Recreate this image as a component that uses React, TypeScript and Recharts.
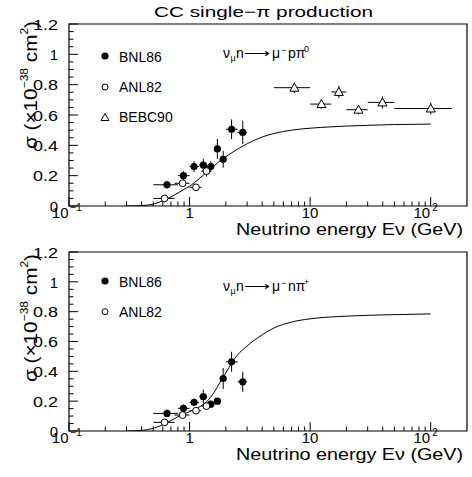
import { ComposedChart, Scatter, Line, XAxis, YAxis, ErrorBar, ReferenceArea } from 'recharts'

const FONT = '"Liberation Sans", Arial, Helvetica, sans-serif'

// log energy axis
const X_TICKS = [
  0.1, 0.2, 0.3, 0.4, 0.5, 0.6, 0.7, 0.8, 0.9,
  1, 2, 3, 4, 5, 6, 7, 8, 9,
  10, 20, 30, 40, 50, 60, 70, 80, 90, 100,
]
const X_MAJOR = [0.1, 1, 10, 100]
const X_MAJOR_BASE = ['10', '1', '10', '10']
const X_MAJOR_EXP = ['\u22121', '', '', '2']

const Y_TICKS = [
  0, 0.05, 0.1, 0.15, 0.2, 0.25, 0.3, 0.35, 0.4, 0.45, 0.5, 0.55, 0.6,
  0.65, 0.7, 0.75, 0.8, 0.85, 0.9, 0.95, 1, 1.05, 1.1, 1.15, 1.2,
]
const Y_MAJOR = [0, 0.2, 0.4, 0.6, 0.8, 1, 1.2]
const Y_LABELS = ['0', '0.2', '0.4', '0.6', '0.8', '1', '1.2']

// BNL86 bins (shared by both channels)
const BNL_E = [0.65, 0.89, 1.09, 1.3, 1.5, 1.7, 1.9, 2.23, 2.76]
const BNL_LO = [0.5, 0.8, 1.0, 1.2, 1.4, 1.6, 1.8, 2.0, 2.5]
const BNL_HI = [0.8, 1.0, 1.2, 1.4, 1.6, 1.8, 2.0, 2.5, 3.0]
// ANL82 bins
const ANL_E = [0.62, 0.875, 1.13, 1.38]
const ANL_LO = [0.5, 0.75, 1.0, 1.25]
const ANL_HI = [0.75, 1.0, 1.25, 1.5]
// BEBC90 bins
const BEBC_E = [7.4, 12.4, 17.3, 25.2, 39.8, 100]
const BEBC_LO = [5, 10, 15, 20, 30, 50]
const BEBC_HI = [10, 15, 20, 30, 50, 150]

// nu_mu n -> mu- p pi0
const P_BNL = [0.14, 0.2, 0.26, 0.27, 0.26, 0.376, 0.308, 0.506, 0.485]
const P_BNL_ERR = [0.025, 0.03, 0.035, 0.04, 0.035, 0.066, 0.055, 0.065, 0.077]
const P_ANL = [0.05, 0.15, 0.123, 0.23]
const P_ANL_ERR = [0.01, 0.012, 0.012, 0.035]
const P_BEBC = [0.78, 0.672, 0.752, 0.635, 0.683, 0.643]
const P_BEBC_ERR = [0.035, 0.03, 0.04, 0.03, 0.04, 0.04]
const P_CURVE_E = [0.3, 0.4, 0.5, 0.6, 0.7, 0.8, 0.9, 1, 1.2, 1.4, 1.6, 1.8, 2, 2.5, 3, 4, 5, 7, 10, 15, 20, 30, 50, 100]
const P_CURVE = [0, 0.003, 0.012, 0.035, 0.06, 0.085, 0.11, 0.13, 0.18, 0.225, 0.265, 0.3, 0.325, 0.375, 0.41, 0.455, 0.478, 0.5, 0.513, 0.522, 0.527, 0.532, 0.537, 0.54]

// nu_mu n -> mu- n pi+
const N_BNL = [0.118, 0.152, 0.192, 0.23, 0.18, 0.2, 0.352, 0.464, 0.33]
const N_BNL_ERR = [0.02, 0.025, 0.025, 0.048, 0.02, 0.02, 0.07, 0.067, 0.067]
const N_ANL = [0.058, 0.107, 0.136, 0.167]
const N_ANL_ERR = [0.01, 0.012, 0.012, 0.015]
const N_CURVE_E = [0.3, 0.4, 0.5, 0.6, 0.7, 0.8, 0.9, 1, 1.2, 1.4, 1.6, 1.8, 2, 2.25, 2.5, 3, 4, 5, 7, 10, 20, 50, 100]
const N_CURVE = [0, 0.004, 0.018, 0.042, 0.07, 0.095, 0.115, 0.13, 0.16, 0.2, 0.26, 0.33, 0.39, 0.46, 0.51, 0.57, 0.645, 0.69, 0.73, 0.752, 0.77, 0.78, 0.785]

type Pt = { E: number; s: number; xe: [number, number]; ye: number }

function points(E: number[], lo: number[], hi: number[], s: number[], err: number[]): Pt[] {
  return E.map((e, i) => ({ E: e, s: s[i], xe: [e - lo[i], hi[i] - e], ye: err[i] }))
}

function curve(E: number[], s: number[]) {
  return E.map((e, i) => ({ E: e, s: s[i] }))
}

const Filled = (p: any) => <circle cx={p.cx} cy={p.cy} r={3.6} fill="#000" />
const Open = (p: any) => <circle cx={p.cx} cy={p.cy} r={3.4} fill="#fff" stroke="#000" strokeWidth={1} />
const Tri = (p: any) => (
  <polygon
    points={`${p.cx},${p.cy - 4.5} ${p.cx - 4.5},${p.cy + 3.5} ${p.cx + 4.5},${p.cy + 3.5}`}
    fill="#fff"
    stroke="#000"
    strokeWidth={1}
  />
)

function XTick(props: any) {
  const { x, y, payload } = props
  const i = X_MAJOR.indexOf(payload.value)
  const major = i >= 0
  const exp = major ? X_MAJOR_EXP[i] : ''
  return (
    <g>
      <line x1={x} x2={x} y1={y} y2={y - (major ? 9 : 4.5)} stroke="#000" strokeWidth={1} />
      {major && exp === '' && (
        <text x={x} y={y + 11.5} textAnchor="middle" fontSize={15} fontFamily={FONT} fill="#000">
          {X_MAJOR_BASE[i]}
        </text>
      )}
      {major && exp !== '' && (
        <g>
          <text x={x - 0.5} y={y + 11.5} textAnchor="end" fontSize={15} fontFamily={FONT} fill="#000">
            {X_MAJOR_BASE[i]}
          </text>
          <text x={x + 1.5} y={y + 5} fontSize={10} fontFamily={FONT} fill="#000">
            {exp}
          </text>
        </g>
      )}
    </g>
  )
}

function YTick(props: any) {
  const { x, y, payload } = props
  const i = Y_MAJOR.indexOf(payload.value)
  const major = i >= 0
  const label = major ? Y_LABELS[i] : ''
  return (
    <g>
      <line x1={x} x2={x + (major ? 9 : 4.5)} y1={y} y2={y} stroke="#000" strokeWidth={1} />
      {major && (
        <text
          x={x - 11}
          y={y}
          dy="0.38em"
          textAnchor="end"
          fontSize={15}
          fontFamily={FONT}
          fill="#000"
          textLength={label.length > 1 ? 25 : undefined}
          lengthAdjust="spacingAndGlyphs"
        >
          {label}
        </text>
      )}
    </g>
  )
}

type PanelProps = {
  height: number
  axisHeight: number
  bnl: Pt[]
  anl: Pt[]
  bebc?: Pt[]
  line: { E: number; s: number }[]
}

function Panel({ height, axisHeight, bnl, anl, bebc, line }: PanelProps) {
  return (
    <ComposedChart width={472} height={height} margin={{ top: 24, right: 5, bottom: 0, left: 0 }}>
      <XAxis
        dataKey="E"
        type="number"
        scale="log"
        domain={[0.1, 200]}
        ticks={X_TICKS}
        interval={0}
        allowDataOverflow
        height={axisHeight}
        axisLine={false}
        tickLine={false}
        tickSize={0}
        tickMargin={0}
        tick={<XTick />}
      />
      <YAxis
        dataKey="s"
        type="number"
        domain={[0, 1.2]}
        ticks={Y_TICKS}
        interval={0}
        allowDataOverflow
        width={69}
        axisLine={false}
        tickLine={false}
        tickSize={0}
        tickMargin={0}
        tick={<YTick />}
      />
      <ReferenceArea x1={0.1} x2={200} y1={0} y2={1.2} fill="none" stroke="#000" strokeWidth={1.2} ifOverflow="visible" />
      <Line data={line} dataKey="s" type="monotone" stroke="#000" strokeWidth={1} dot={false} isAnimationActive={false} />
      <Scatter data={bnl} dataKey="s" shape={Filled} isAnimationActive={false}>
        <ErrorBar dataKey="ye" direction="y" width={0} stroke="#000" strokeWidth={1} />
        <ErrorBar dataKey="xe" direction="x" width={0} stroke="#000" strokeWidth={1} />
      </Scatter>
      <Scatter data={anl} dataKey="s" shape={Open} isAnimationActive={false}>
        <ErrorBar dataKey="ye" direction="y" width={0} stroke="#000" strokeWidth={1} />
        <ErrorBar dataKey="xe" direction="x" width={0} stroke="#000" strokeWidth={1} />
      </Scatter>
      {bebc && (
        <Scatter data={bebc} dataKey="s" shape={Tri} isAnimationActive={false}>
          <ErrorBar dataKey="ye" direction="y" width={0} stroke="#000" strokeWidth={1} />
          <ErrorBar dataKey="xe" direction="x" width={0} stroke="#000" strokeWidth={1} />
        </Scatter>
      )}
    </ComposedChart>
  )
}

function YLabel({ cy }: { cy: number }) {
  return (
    <text
      transform={`translate(37, ${cy}) rotate(-90)`}
      textAnchor="middle"
      fontSize={19}
      fontFamily={FONT}
      fill="#000"
      textLength={128}
      lengthAdjust="spacingAndGlyphs"
    >
      σ (×10
      <tspan fontSize={11} dy={-9}>−38</tspan>
      <tspan dy={9}> cm</tspan>
      <tspan fontSize={11} dy={-9}>2</tspan>
      <tspan dy={9}>)</tspan>
    </text>
  )
}

function Reaction({ y, final, charge }: { y: number; final: string; charge: string }) {
  return (
    <g fontFamily={FONT} fill="#000">
      <text x={223} y={y} fontSize={14}>ν</text>
      <text x={230.5} y={y + 3} fontSize={9}>μ</text>
      <text x={236} y={y} fontSize={14}>n</text>
      <text x={244} y={y} fontSize={14} textLength={26} lengthAdjust="spacingAndGlyphs">⟶</text>
      <text x={272} y={y} fontSize={14}>μ</text>
      <text x={281} y={y - 5} fontSize={9}>−</text>
      <text x={288} y={y} fontSize={14}>{final}π</text>
      <text x={304} y={y - 6} fontSize={9}>{charge}</text>
    </g>
  )
}

export default function App() {
  return (
    <div style={{ position: 'absolute', left: 0, top: 0, width: 472, height: 477, background: '#fff' }}>
      <div style={{ position: 'absolute', left: 0, top: 0 }}>
        <Panel
          height={240}
          axisHeight={34}
          bnl={points(BNL_E, BNL_LO, BNL_HI, P_BNL, P_BNL_ERR)}
          anl={points(ANL_E, ANL_LO, ANL_HI, P_ANL, P_ANL_ERR)}
          bebc={points(BEBC_E, BEBC_LO, BEBC_HI, P_BEBC, P_BEBC_ERR)}
          line={curve(P_CURVE_E, P_CURVE)}
        />
      </div>
      <div style={{ position: 'absolute', left: 0, top: 228 }}>
        <Panel
          height={249}
          axisHeight={46}
          bnl={points(BNL_E, BNL_LO, BNL_HI, N_BNL, N_BNL_ERR)}
          anl={points(ANL_E, ANL_LO, ANL_HI, N_ANL, N_ANL_ERR)}
          line={curve(N_CURVE_E, N_CURVE)}
        />
      </div>
      <svg
        width={472}
        height={477}
        style={{ position: 'absolute', left: 0, top: 0, pointerEvents: 'none' }}
      >
        <text x={154} y={16.7} fontSize={15} fontFamily={FONT} textLength={219} lengthAdjust="spacingAndGlyphs">
          CC single−π production
        </text>

        <YLabel cy={85} />
        <YLabel cy={318} />

        <text x={236} y={235} fontSize={16} fontFamily={FONT} textLength={227} lengthAdjust="spacingAndGlyphs">
          Neutrino energy Eν (GeV)
        </text>
        <text x={236} y={460} fontSize={16} fontFamily={FONT} textLength={227} lengthAdjust="spacingAndGlyphs">
          Neutrino energy Eν (GeV)
        </text>

        {/* legend, top panel */}
        <circle cx={105} cy={56} r={3.6} fill="#000" />
        <text x={119} y={61.7} fontSize={14} fontFamily={FONT}>BNL86</text>
        <circle cx={105} cy={87} r={3} fill="#fff" stroke="#000" />
        <text x={119} y={92.3} fontSize={14} fontFamily={FONT}>ANL82</text>
        <polygon points="105,113.5 101,120.5 109,120.5" fill="#fff" stroke="#000" />
        <text x={119} y={122} fontSize={14} fontFamily={FONT}>BEBC90</text>

        {/* legend, bottom panel */}
        <circle cx={105} cy={281} r={3.6} fill="#000" />
        <text x={119} y={286.7} fontSize={14} fontFamily={FONT}>BNL86</text>
        <circle cx={105} cy={311.7} r={3} fill="#fff" stroke="#000" />
        <text x={119} y={317} fontSize={14} fontFamily={FONT}>ANL82</text>

        <Reaction y={58} final="p" charge="0" />
        <Reaction y={291} final="n" charge="+" />
      </svg>
    </div>
  )
}
